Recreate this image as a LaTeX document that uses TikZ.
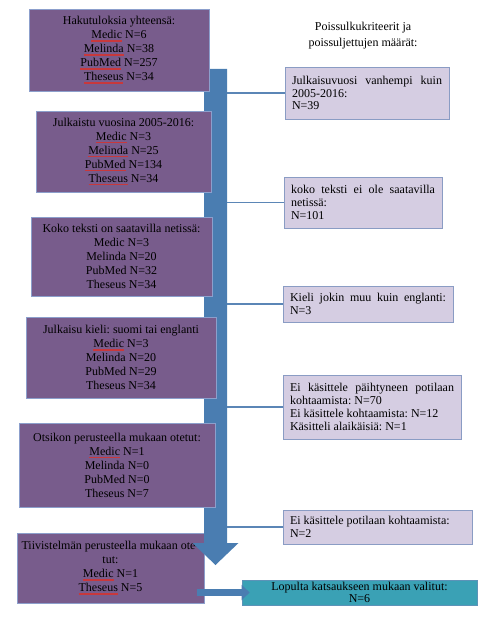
\documentclass[tikz,border=0pt]{standalone}
\usepackage{fontspec}
\setmainfont{Liberation Serif}
\usepackage{xcolor}
\usepackage{tikz}
\usetikzlibrary{arrows.meta,positioning,calc}

\definecolor{boxpurple}{HTML}{785C8C}
\definecolor{boxedge}{HTML}{8C9FCC}
\definecolor{exclfill}{HTML}{D5CDE2}
\definecolor{excledge}{HTML}{8A9CC4}
\definecolor{shaftblue}{HTML}{4A7DB1}
\definecolor{linkblue}{HTML}{5B86B6}
\definecolor{finalteal}{HTML}{3AA1B5}
\definecolor{finaledge}{HTML}{5C93B8}
\definecolor{spellred}{HTML}{C8383C}

% red spell-check underline
\newsavebox\splbox
\newcommand{\spl}[1]{\sbox\splbox{#1}\rlap{\color{spellred}\rule[-3pt]{\wd\splbox}{1.5pt}}\usebox\splbox}
\frenchspacing

\begin{document}
\begin{tikzpicture}[
  x=1pt,y=-1pt,
  stage/.style={draw=boxedge,line width=0.8pt,fill=boxpurple,align=center,inner sep=2pt,
    font=\fontsize{12}{14}\selectfont},
  excl/.style={draw=excledge,line width=0.8pt,fill=exclfill,align=justify,inner xsep=7pt,
    inner ysep=3pt,font=\fontsize{12}{12.8}\selectfont},
  final/.style={draw=finaledge,line width=0.8pt,fill=finalteal,align=center,inner sep=0pt,
    font=\fontsize{12}{11.5}\selectfont},
  link/.style={draw=linkblue,line width=1.6pt},
  blockarrow/.style={draw=shaftblue,line width=7pt,-{Triangle[length=8pt,width=15pt]}}]
 \useasboundingbox (0,0) rectangle (486,620);
 % ---- last stage (under the big arrow) ----
 \node[stage,minimum width=187pt,minimum height=70pt] (b6) at (110.5,568)
   {Tiivistelmän perusteella mukaan ote-\\tut:\\\spl{Medic} N=1\\\spl{Theseus} N=5};
 % ---- big arrow ----
 \fill[shaftblue] (204,69) -- (227,69) -- (227,543) -- (238.5,543) -- (215.5,565)
   -- (192.5,543) -- (204,543) -- cycle;
 \coordinate (sh) at (227,0);
 % ---- stages ----
 \node[stage,minimum width=180pt,minimum height=82pt] (b1) at (119,50)
   {Hakutuloksia yhteensä:\\\spl{Medic} N=6\\\spl{Melinda} N=38\\\spl{PubMed} N=257\\\spl{Theseus} N=34};
 \node[stage,minimum width=175pt,minimum height=81pt] (b2) at (123.5,151.5)
   {Julkaistu vuosina 2005-2016:\\\spl{Medic} N=3\\\spl{Melinda} N=25\\\spl{PubMed} N=134\\\spl{Theseus} N=34};
 \node[stage,minimum width=181pt,minimum height=79pt] (b3) at (121.5,256.5)
   {Koko teksti on saatavilla netissä:\\Medic N=3\\Melinda N=20\\PubMed N=32\\Theseus N=34};
 \node[stage,minimum width=190pt,minimum height=81pt] (b4) at (121,357.5)
   {Julkaisu kieli: suomi tai englanti\\\spl{Medic} N=3\\Melinda N=20\\PubMed N=29\\Theseus N=34};
 \node[stage,minimum width=196pt,minimum height=84pt] (b5) at (117,465)
   {Otsikon perusteella mukaan otetut:\\\spl{Medic} N=1\\Melinda N=0\\PubMed N=0\\Theseus N=7};
 % ---- exclusions ----
 \node[align=center,font=\fontsize{12}{16}\selectfont] (title) at (363,36)
   {Poissulkukriteerit ja\\poissuljettujen määrät:};
 \node[excl,text width=150pt,minimum height=52pt] (r1) at (367,93)
   {Julkaisuvuosi vanhempi kuin\linebreak 2005-2016:\\N=39};
 \node[excl,text width=144pt,minimum height=51pt] (r2) at (363,202.5)
   {koko teksti ei ole saatavilla\linebreak netissä:\\N=101};
 \node[excl,text width=156pt,minimum height=36pt] (r3) at (368,304)
   {Kieli jokin muu kuin englanti:\linebreak N=3};
 \node[excl,text width=164pt,minimum height=64pt] (r4) at (372,407)
   {Ei käsittele päihtyneen potilaan\linebreak kohtaamista: N=70\\Ei käsittele kohtaamista: N=12\\Käsitteli alaikäisiä: N=1};
 \node[excl,text width=175pt,minimum height=34pt] (r5) at (377.5,527)
   {Ei käsittele potilaan kohtaamista:\\N=2};
 \foreach \r in {r1,r2,r3,r4,r5}
   \draw[link] (sh |- \r.west) -- (\r.west);
 % ---- result ----
 \node[final,minimum width=235pt,minimum height=25pt] (fin) at (359.5,592.5)
   {Lopulta katsaukseen mukaan valitut:\\N=6};
 \draw[blockarrow] ([xshift=-7pt]b6.east |- fin.west) -- ([xshift=8pt]fin.west);
\end{tikzpicture}
\end{document}
